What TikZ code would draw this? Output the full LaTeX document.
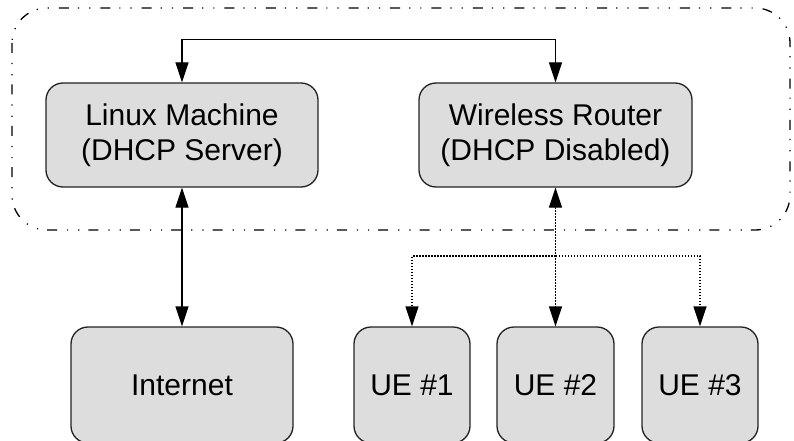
\documentclass[tikz,border=0pt]{standalone}
\usepackage{fontspec}
\setmainfont{Liberation Sans}
\usetikzlibrary{arrows.meta}
\definecolor{boxfill}{HTML}{DDDDDD}
\definecolor{boxline}{HTML}{222222}
\tikzset{
  devbox/.style={draw=boxline, line width=1.3pt, fill=boxfill, rounded corners=17pt,
    align=center, inner sep=0pt, font=\fontsize{30}{35}\selectfont, text=black},
  link/.style={line width=1.3pt, draw=black, {Triangle[length=20pt,width=13pt]}-{Triangle[length=20pt,width=13pt]}},
  wlink/.style={line width=1.5pt, draw=black, dash pattern=on 1.6pt off 1.4pt},
  tipend/.style={-{Triangle[length=20pt,width=13pt]}},
  zone/.style={draw=black, line width=1.3pt, rounded corners=35pt,
    dash pattern=on 10pt off 10pt on 1.2pt off 10pt on 1.2pt off 9pt}
}
\begin{document}
\begin{tikzpicture}[x=1pt, y=-1pt]
  \useasboundingbox (0,0) rectangle (794,441);
  \clip (0,0) rectangle (794,441);
  \fill[white] (0,0) rectangle (794,441);

  % local network zone
  \draw[zone] (12,8) rectangle (790,230);

  % devices
  \node[devbox, minimum width=272pt, minimum height=104pt] (linux) at (182,135)
    {Linux Machine\\(DHCP Server)};
  \node[devbox, minimum width=273pt, minimum height=104pt] (router) at (555.5,135)
    {Wireless Router\\(DHCP Disabled)};
  \node[devbox, minimum width=222pt, minimum height=116pt] (inet) at (182,385) {Internet};
  \node[devbox, minimum width=116pt, minimum height=116pt] (ue1) at (412,385) {UE \#1};
  \node[devbox, minimum width=117pt, minimum height=116pt] (ue2) at (555.5,385) {UE \#2};
  \node[devbox, minimum width=116pt, minimum height=116pt] (ue3) at (700,385) {UE \#3};

  % wired links
  \draw[link] (linux.north) -- ++(0,-43) -| (router.north);
  \draw[link] (linux.south) -- (inet.north);

  % wireless links
  \coordinate (split) at (router.south |- 0,256);
  \draw[wlink, link] (router.south) -- (ue2.north);
  \draw[wlink, tipend] (split) -| (ue1.north);
  \draw[wlink, tipend] (split) -| (ue3.north);
\end{tikzpicture}
\end{document}
